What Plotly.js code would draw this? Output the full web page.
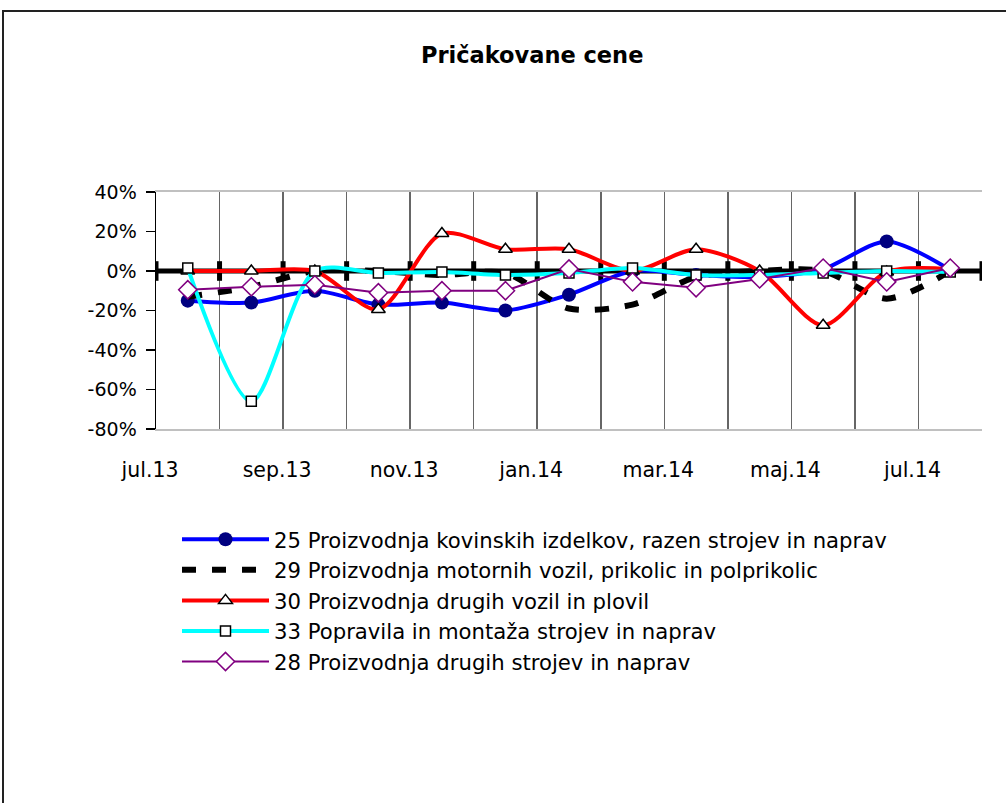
<!DOCTYPE html>
<html>
<head>
<meta charset="utf-8">
<script src="https://cdn.plot.ly/plotly-3.0.1.min.js"></script>
<style>
  html, body { margin: 0; padding: 0; background: #fff; }
  #wrap { position: relative; width: 1006px; height: 803px; overflow: hidden; }
  #chart { width: 1006px; height: 803px; }
  #frame { position: absolute; left: 2px; top: 10px; width: 1100px; height: 900px;
           border-left: 2px solid #222; border-top: 2px solid #222; pointer-events: none; }
</style>
</head>
<body>
<div id="wrap">
  <div id="chart"></div>
  <div id="frame"></div>
</div>
<script>
// ---- data ----
const months = ['jul.13','avg.13','sep.13','okt.13','nov.13','dec.13','jan.14','feb.14','mar.14','apr.14','maj.14','jun.14','jul.14'];
const labelMonths = ['jul.13','sep.13','nov.13','jan.14','mar.14','maj.14','jul.14'];
const names = [
  '25 Proizvodnja kovinskih izdelkov, razen strojev in naprav',
  '29 Proizvodnja motornih vozil, prikolic in polprikolic',
  '30 Proizvodnja drugih vozil in plovil',
  '33 Popravila in montaža strojev in naprav',
  '28 Proizvodnja drugih strojev in naprav'
];
const s25 = [-15, -16, -10, -17, -16, -20, -12, 0, -2, -3, 1, 15, 0.5];
const s29 = [-13, -8, 0, 0, -2, -1, -19, -17, -3, 0, 0, -14, 0];
const s30 = [0, 0, 0, -19.5, 19, 11, 11, 0, 11, 0, -27.5, -0.5, 1];
const s33 = [1.5, -66, 0, -1, -0.5, -2, -1, 1.5, -2, -2, -1, 0, -0.5];
const s28 = [-9.5, -8, -7, -11, -10, -10, 1, -5.5, -8.5, -4, 1.5, -5.5, 1.5];
const zeroRef = [0,0,0,0,0,0,0,0,0,0,0,0,0,0];
const yTickVals = [-80, -60, -40, -20, 0, 20, 40];

// ---- build ----
const xPts = months.map((m, i) => i);
const xEdges = zeroRef.map((v, i) => i - 0.5);
const font = 'DejaVu Sans, Verdana, sans-serif';

const traces = [
  { x: xEdges, y: zeroRef, mode: 'lines+markers', showlegend: false, hoverinfo: 'skip',
    line: { color: '#000', width: 5 },
    marker: { symbol: 'line-ns', size: 14, line: { color: '#000', width: 5 } } },
  { x: xPts, y: s25, name: names[0], mode: 'lines+markers', legendgroup: 'g1',
    line: { color: '#0000ff', width: 4, shape: 'spline', smoothing: 0.8 },
    marker: { symbol: 'circle', size: 14, color: '#000080' } },
  { x: xPts, y: s29, name: names[1], mode: 'lines', legendgroup: 'g2',
    line: { color: '#000', width: 6, dash: '14px,16px', shape: 'spline', smoothing: 0.8 } },
  { x: xPts, y: s30, name: names[2], mode: 'lines+markers', legendgroup: 'g3',
    line: { color: '#ff0000', width: 4, shape: 'spline', smoothing: 0.8 },
    marker: { symbol: 'triangle-up', size: 12, color: '#fff', line: { color: '#000', width: 1.5 } } },
  { x: xPts, y: s33, name: names[3], mode: 'lines+markers', legendgroup: 'g4',
    line: { color: '#00ffff', width: 4, shape: 'spline', smoothing: 0.8 },
    marker: { symbol: 'square', size: 10, color: '#fff', line: { color: '#000', width: 1.5 } } },
  { x: xPts, y: s28, name: names[4], mode: 'lines+markers', legendgroup: 'g5',
    line: { color: '#800080', width: 2 },
    marker: { symbol: 'diamond', size: 14, color: '#fff', line: { color: '#800080', width: 1.5 } } }
];

const labelPos = labelMonths.map(m => months.indexOf(m) - 0.5);

const layout = {
  width: 1006, height: 803,
  margin: { l: 156, r: 24, t: 192, b: 374 },
  paper_bgcolor: '#fff', plot_bgcolor: '#fff',
  font: { family: font, size: 18, color: '#000' },
  title: { text: '<b>Pričakovane cene</b>', font: { family: font, size: 22.5, color: '#000' },
           x: 0.529, xref: 'container', xanchor: 'center', y: 1 - 55/803, yref: 'container', yanchor: 'middle' },
  xaxis: {
    range: [-0.5, 12.5], tickmode: 'array', tickvals: labelPos, ticktext: labelMonths,
    ticks: '', ticklabelstandoff: 21, ticklabelshift: -6,
    showgrid: true, gridcolor: '#666', gridwidth: 1.5,
    minor: { tick0: -0.5, dtick: 1, showgrid: true, gridcolor: '#666', gridwidth: 1.5, ticks: '' },
    showline: true, linecolor: '#c0c0c0', linewidth: 2, mirror: true,
    zeroline: false, tickfont: { size: 20.5 }
  },
  yaxis: {
    range: [-80, 40], tickmode: 'array', tickvals: yTickVals,
    ticktext: yTickVals.map(v => String(v) + '%'),
    ticks: 'outside', ticklen: 9, tickwidth: 1.5, tickcolor: '#000',
    showgrid: false, zeroline: false, showline: true, linecolor: '#000', linewidth: 1.5,
    tickfont: { size: 19 }, ticklabelstandoff: 5
  },
  yaxis2: {
    range: [-80, 40], overlaying: 'y', side: 'right', showline: true, linecolor: '#c0c0c0', linewidth: 2,
    showticklabels: false, ticks: '', showgrid: false, zeroline: false
  },
  legend: {
    x: (177 - 156) / 826, xanchor: 'left', y: (429 - 519) / 237, yanchor: 'top',
    itemwidth: 87, font: { family: font, size: 21.2, color: '#000' },
    bgcolor: 'rgba(0,0,0,0)', traceorder: 'normal', tracegroupgap: 2.5
  },
  showlegend: true
};

Plotly.newPlot('chart', traces, layout, { displayModeBar: false, staticPlot: true });
</script>
</body>
</html>
